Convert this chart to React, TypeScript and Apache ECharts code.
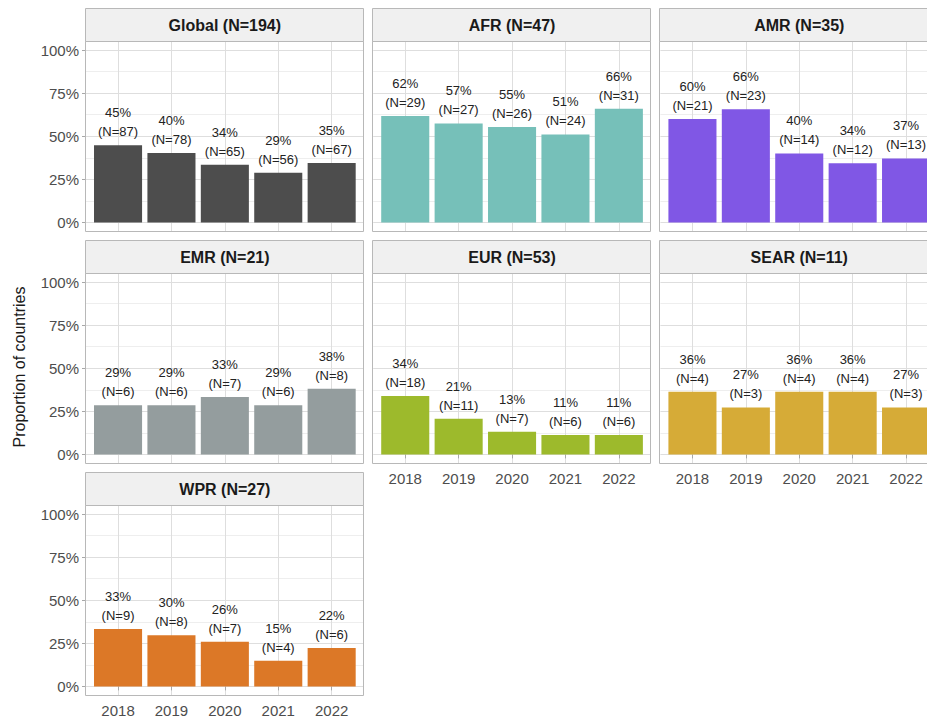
import React, { useEffect, useRef } from 'react';
import * as echarts from 'echarts';

const years = ['2018', '2019', '2020', '2021', '2022'];
const regionNames = ['Global', 'AFR', 'AMR', 'EMR', 'EUR', 'SEAR', 'WPR'];
const regionTotals = [194, 47, 35, 21, 53, 11, 27];
const globalCounts = [87, 78, 65, 56, 67];
const afrCounts = [29, 27, 26, 24, 31];
const amrCounts = [21, 23, 14, 12, 13];
const emrCounts = [6, 6, 7, 6, 8];
const eurCounts = [18, 11, 7, 6, 6];
const searCounts = [4, 3, 4, 4, 3];
const wprCounts = [9, 8, 7, 4, 6];
const regionCounts = [globalCounts, afrCounts, amrCounts, emrCounts, eurCounts, searCounts, wprCounts];
const regionColors = ['#4d4d4d', '#76c0b9', '#8057e5', '#949d9e', '#9dba2c', '#d6ab37', '#dc7827'];
const yTicks = [0, 0.25, 0.5, 0.75, 1];
const yTitle = 'Proportion of countries';

const FONT = '"Liberation Sans", Arial, sans-serif';
const colLeft = [86, 373.2, 660.4];
const panelW = 277.7;
const stripTops = [9, 241, 473];
const stripH = 32.5;
const plotH = 189.5;
const unit = panelW / 5.2;

function buildOption() {
  const grid: any[] = [];
  const xAxis: any[] = [];
  const yAxis: any[] = [];
  const series: any[] = [];
  const graphic: any[] = [];

  regionNames.forEach((name, i) => {
    const col = i % 3;
    const row = Math.floor(i / 3);
    const left = colLeft[col];
    const plotTop = stripTops[row] + stripH;
    const isLeft = col === 0;
    const isBottom = i >= 4;
    const counts = regionCounts[i];
    const total = regionTotals[i];

    // grid for horizontal lines / y axis (0..1 region)
    grid.push({
      left,
      top: plotTop + (plotH * 0.05) / 1.1,
      width: panelW,
      height: plotH / 1.1,
      containLabel: false,
    });
    xAxis.push({ type: 'value', gridIndex: 2 * i, show: false, min: 0, max: 1 });
    yAxis.push({
      type: 'value',
      gridIndex: 2 * i,
      min: 0,
      max: 1,
      interval: 0.25,
      axisLine: { show: false },
      axisTick: { show: isLeft, length: 4, lineStyle: { color: '#a8a8a8', width: 1 } },
      axisLabel: {
        show: isLeft,
        margin: 7,
        fontSize: 15,
        color: '#4d4d4d',
        fontFamily: FONT,
        formatter: (v: number) => (yTicks.includes(v) ? Math.round(v * 100) + '%' : ''),
      },
      splitLine: { show: true, lineStyle: { color: '#dedede', width: 1 } },
      minorTick: { show: false, splitNumber: 2 },
      minorSplitLine: { show: true, lineStyle: { color: '#eeeeee', width: 1 } },
    });

    // grid for categories / bars (full panel height)
    grid.push({
      left: left + 0.6 * unit,
      top: plotTop,
      width: 4 * unit,
      height: plotH,
      containLabel: false,
    });
    xAxis.push({
      type: 'category',
      gridIndex: 2 * i + 1,
      data: years,
      boundaryGap: false,
      axisLine: { show: false },
      axisTick: { show: isBottom, length: 4, lineStyle: { color: '#a8a8a8', width: 1 } },
      axisLabel: {
        show: isBottom,
        interval: 0,
        margin: 8,
        fontSize: 15,
        color: '#4d4d4d',
        fontFamily: FONT,
      },
      splitLine: { show: true, interval: 0, lineStyle: { color: '#dedede', width: 1 } },
    });
    yAxis.push({ type: 'value', gridIndex: 2 * i + 1, min: -0.05, max: 1.05, show: false });

    series.push({
      type: 'bar',
      name,
      xAxisIndex: 2 * i + 1,
      yAxisIndex: 2 * i + 1,
      barWidth: 0.9 * unit,
      data: counts.map((c) => c / total),
      itemStyle: { color: regionColors[i] },
      label: {
        show: true,
        position: 'top',
        distance: 4,
        fontSize: 13,
        lineHeight: 19,
        color: '#222222',
        fontFamily: FONT,
        formatter: (p: any) => {
          const c = counts[p.dataIndex];
          return Math.round((c / total) * 100) + '%\n(N=' + c + ')';
        },
      },
    });

    const rx = Math.round(left) - 0.5;
    const rw = Math.round(panelW);
    graphic.push({
      type: 'rect',
      z: 10,
      shape: { x: rx, y: Math.round(stripTops[row]) - 0.5, width: rw, height: Math.round(stripH) },
      style: { fill: '#f0f0f0', stroke: '#b8b8b8', lineWidth: 1 },
    });
    graphic.push({
      type: 'text',
      z: 11,
      style: {
        text: name + ' (N=' + total + ')',
        x: left + panelW / 2,
        y: stripTops[row] + stripH / 2,
        align: 'center',
        verticalAlign: 'middle',
        textAlign: 'center',
        textVerticalAlign: 'middle',
        font: 'bold 16px ' + FONT,
        fill: '#1a1a1a',
      },
    });
    graphic.push({
      type: 'rect',
      z: 10,
      shape: { x: rx, y: Math.round(plotTop) - 0.5, width: rw, height: Math.round(plotH) },
      style: { fill: 'none', stroke: '#b8b8b8', lineWidth: 1 },
    });
  });

  graphic.push({
    type: 'text',
    z: 11,
    x: 19,
    y: 367,
    rotation: Math.PI / 2,
    style: {
      text: yTitle,
      x: 0,
      y: 0,
      align: 'center',
      verticalAlign: 'middle',
      textAlign: 'center',
      textVerticalAlign: 'middle',
      font: '16px ' + FONT,
      fill: '#1a1a1a',
    },
  });

  return {
    animation: false,
    backgroundColor: '#ffffff',
    grid,
    xAxis,
    yAxis,
    series,
    graphic,
  };
}

export default function App() {
  const ref = useRef<HTMLDivElement>(null);
  useEffect(() => {
    if (!ref.current) return;
    const chart = echarts.init(ref.current, undefined, { renderer: 'svg' });
    chart.setOption(buildOption() as any);
    return () => chart.dispose();
  }, []);
  return (
    <div style={{ position: 'fixed', left: 0, top: 0, width: '100vw', height: '100vh', overflow: 'hidden', background: '#fff' }}>
      <div ref={ref} style={{ width: 950, height: 720 }} />
    </div>
  );
}
